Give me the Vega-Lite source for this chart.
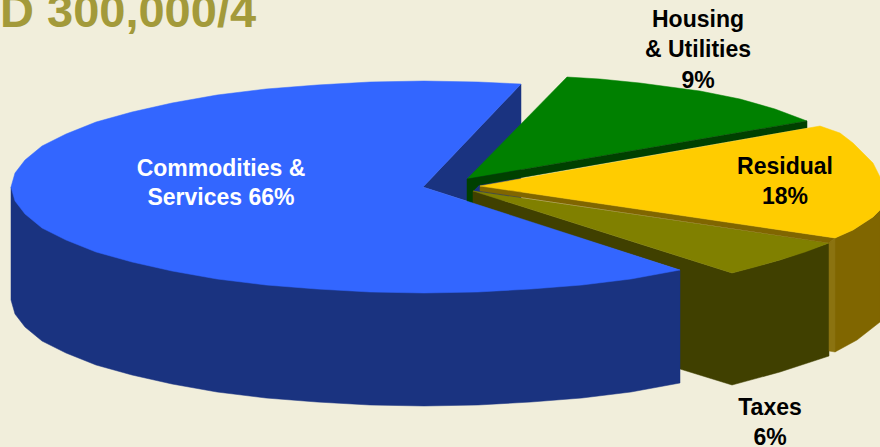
{"$schema":"https://vega.github.io/schema/vega-lite/v6.json","width":880,"height":447,"autosize":{"type":"none"},"padding":0,"background":"#F1EEDB","view":{"stroke":null},
"datasets":{"outline":[
{"s":"a_blueInner","x":423,"y":187},{"s":"a_blueInner","x":521,"y":84},{"s":"a_blueInner","x":521,"y":200},{"s":"a_blueInner","x":467,"y":201},
{"s":"b_greenTop","x":467,"y":179},{"s":"b_greenTop","x":567,"y":77},{"s":"b_greenTop","x":600,"y":79},{"s":"b_greenTop","x":640,"y":83},{"s":"b_greenTop","x":700,"y":91},{"s":"b_greenTop","x":740,"y":99},{"s":"b_greenTop","x":775,"y":109},{"s":"b_greenTop","x":807,"y":121},
{"s":"c_greenSide","x":467,"y":179},{"s":"c_greenSide","x":807,"y":121},{"s":"c_greenSide","x":807,"y":128},{"s":"c_greenSide","x":479,"y":185},{"s":"c_greenSide","x":473,"y":191},{"s":"c_greenSide","x":473,"y":204},{"s":"c_greenSide","x":467,"y":202},
{"s":"d_oliveSide","x":473,"y":191},{"s":"d_oliveSide","x":640,"y":244},{"s":"d_oliveSide","x":732,"y":273},{"s":"d_oliveSide","x":780,"y":260},{"s":"d_oliveSide","x":829,"y":243},{"s":"d_oliveSide","x":829,"y":356},{"s":"d_oliveSide","x":780,"y":372},{"s":"d_oliveSide","x":732,"y":385},{"s":"d_oliveSide","x":680,"y":369},{"s":"d_oliveSide","x":680,"y":270},{"s":"d_oliveSide","x":473,"y":204},
{"s":"e_oliveTop","x":473,"y":191},{"s":"e_oliveTop","x":829,"y":243},{"s":"e_oliveTop","x":805,"y":252},{"s":"e_oliveTop","x":780,"y":260},{"s":"e_oliveTop","x":755,"y":267},{"s":"e_oliveTop","x":732,"y":273},
{"s":"f_brownSide","x":835,"y":238},{"s":"f_brownSide","x":853,"y":230},{"s":"f_brownSide","x":873,"y":217},{"s":"f_brownSide","x":880,"y":210},{"s":"f_brownSide","x":880,"y":322},{"s":"f_brownSide","x":857,"y":340},{"s":"f_brownSide","x":835,"y":352},
{"s":"g_brownEdge","x":829,"y":243},{"s":"g_brownEdge","x":835,"y":238},{"s":"g_brownEdge","x":835,"y":352},{"s":"g_brownEdge","x":829,"y":351},
{"s":"h_brownStrip","x":480,"y":186},{"s":"h_brownStrip","x":835,"y":238},{"s":"h_brownStrip","x":829,"y":243},{"s":"h_brownStrip","x":480,"y":191},
{"s":"i_yellow","x":480,"y":186},{"s":"i_yellow","x":820,"y":126},{"s":"i_yellow","x":840,"y":133},{"s":"i_yellow","x":853,"y":143},{"s":"i_yellow","x":873,"y":163},{"s":"i_yellow","x":880,"y":177},{"s":"i_yellow","x":880,"y":210},{"s":"i_yellow","x":873,"y":217},{"s":"i_yellow","x":853,"y":230},{"s":"i_yellow","x":835,"y":238},
{"s":"j_blueSide","x":11,"y":187},{"s":"j_blueSide","x":680,"y":270},{"s":"j_blueSide","x":680,"y":383},{"s":"j_blueSide","x":631,"y":392},{"s":"j_blueSide","x":582,"y":398},{"s":"j_blueSide","x":531,"y":402},{"s":"j_blueSide","x":478,"y":405},{"s":"j_blueSide","x":424,"y":406},{"s":"j_blueSide","x":370,"y":405},{"s":"j_blueSide","x":317,"y":402},{"s":"j_blueSide","x":266,"y":398},{"s":"j_blueSide","x":217,"y":392},{"s":"j_blueSide","x":172,"y":384},{"s":"j_blueSide","x":132,"y":375},{"s":"j_blueSide","x":96,"y":365},{"s":"j_blueSide","x":66,"y":353},{"s":"j_blueSide","x":42,"y":341},{"s":"j_blueSide","x":25,"y":327},{"s":"j_blueSide","x":15,"y":314},{"s":"j_blueSide","x":11,"y":300},
{"s":"k_blueTop","x":423,"y":187},{"s":"k_blueTop","x":521,"y":84},{"s":"k_blueTop","x":478,"y":82},{"s":"k_blueTop","x":424,"y":81},{"s":"k_blueTop","x":370,"y":82},{"s":"k_blueTop","x":317,"y":85},{"s":"k_blueTop","x":266,"y":89},{"s":"k_blueTop","x":217,"y":95},{"s":"k_blueTop","x":172,"y":103},{"s":"k_blueTop","x":132,"y":112},{"s":"k_blueTop","x":96,"y":122},{"s":"k_blueTop","x":66,"y":134},{"s":"k_blueTop","x":42,"y":146},{"s":"k_blueTop","x":25,"y":160},{"s":"k_blueTop","x":15,"y":173},{"s":"k_blueTop","x":11,"y":187},{"s":"k_blueTop","x":15,"y":201},{"s":"k_blueTop","x":25,"y":214},{"s":"k_blueTop","x":42,"y":228},{"s":"k_blueTop","x":66,"y":240},{"s":"k_blueTop","x":96,"y":252},{"s":"k_blueTop","x":132,"y":262},{"s":"k_blueTop","x":172,"y":271},{"s":"k_blueTop","x":217,"y":279},{"s":"k_blueTop","x":266,"y":285},{"s":"k_blueTop","x":317,"y":289},{"s":"k_blueTop","x":370,"y":292},{"s":"k_blueTop","x":424,"y":293},{"s":"k_blueTop","x":478,"y":292},{"s":"k_blueTop","x":531,"y":289},{"s":"k_blueTop","x":582,"y":285},{"s":"k_blueTop","x":631,"y":279},{"s":"k_blueTop","x":680,"y":270}
],
"labels":[
{"t":"Commodities &","x":221,"y":176,"c":"w"},{"t":"Services 66%","x":221,"y":205,"c":"w"},
{"t":"Housing","x":698,"y":27,"c":"k"},{"t":"& Utilities","x":698,"y":57,"c":"k"},{"t":"9%","x":698,"y":88,"c":"k"},
{"t":"Residual","x":785,"y":174,"c":"k"},{"t":"18%","x":785,"y":204,"c":"k"},
{"t":"Taxes","x":770,"y":415,"c":"k"},{"t":"6%","x":770,"y":445,"c":"k"}
]},
"layer":[
{"data":{"name":"outline"},"transform":[{"window":[{"op":"row_number","as":"i"}],"groupby":["s"]}],
"mark":{"type":"line","strokeWidth":0.5,"interpolate":"linear-closed","clip":true},
"encoding":{"x":{"field":"x","type":"quantitative","scale":{"domain":[0,880],"nice":false,"zero":false},"axis":null},
"y":{"field":"y","type":"quantitative","scale":{"domain":[0,447],"nice":false,"zero":false,"reverse":true},"axis":null},
"order":{"field":"i"},
"fill":{"field":"s","type":"nominal","legend":null,"scale":{"domain":["a_blueInner","b_greenTop","c_greenSide","d_oliveSide","e_oliveTop","f_brownSide","g_brownEdge","h_brownStrip","i_yellow","j_blueSide","k_blueTop"],"range":["#1A3380","#008000","#004000","#404000","#808000","#806600","#8B7310","#806600","#FFCC00","#1A3380","#3366FF"]}},
"stroke":{"field":"s","type":"nominal","legend":null,"scale":{"domain":["a_blueInner","b_greenTop","c_greenSide","d_oliveSide","e_oliveTop","f_brownSide","g_brownEdge","h_brownStrip","i_yellow","j_blueSide","k_blueTop"],"range":["#1A3380","#008000","#004000","#404000","#808000","#806600","#8B7310","#806600","#FFCC00","#1A3380","#3366FF"]}}}},
{"data":{"name":"labels"},"mark":{"type":"text","font":"Liberation Sans","fontWeight":"bold","fontSize":23,"align":"center","baseline":"alphabetic"},
"encoding":{"x":{"field":"x","type":"quantitative"},"y":{"field":"y","type":"quantitative"},"text":{"field":"t"},
"color":{"field":"c","type":"nominal","legend":null,"scale":{"domain":["w","k"],"range":["#FFFFFF","#000000"]}}}},
{"data":{"values":[{"t":"D 300,000/4","x":0,"y":27}]},"mark":{"type":"text","font":"Liberation Sans","fontWeight":"bold","fontSize":47,"align":"left","baseline":"alphabetic","color":"#A39A3A","clip":true},
"encoding":{"x":{"field":"x","type":"quantitative"},"y":{"field":"y","type":"quantitative"},"text":{"field":"t"}}}
],"resolve":{"scale":{"color":"independent"}},"config":{"axis":{"disable":true}}}
